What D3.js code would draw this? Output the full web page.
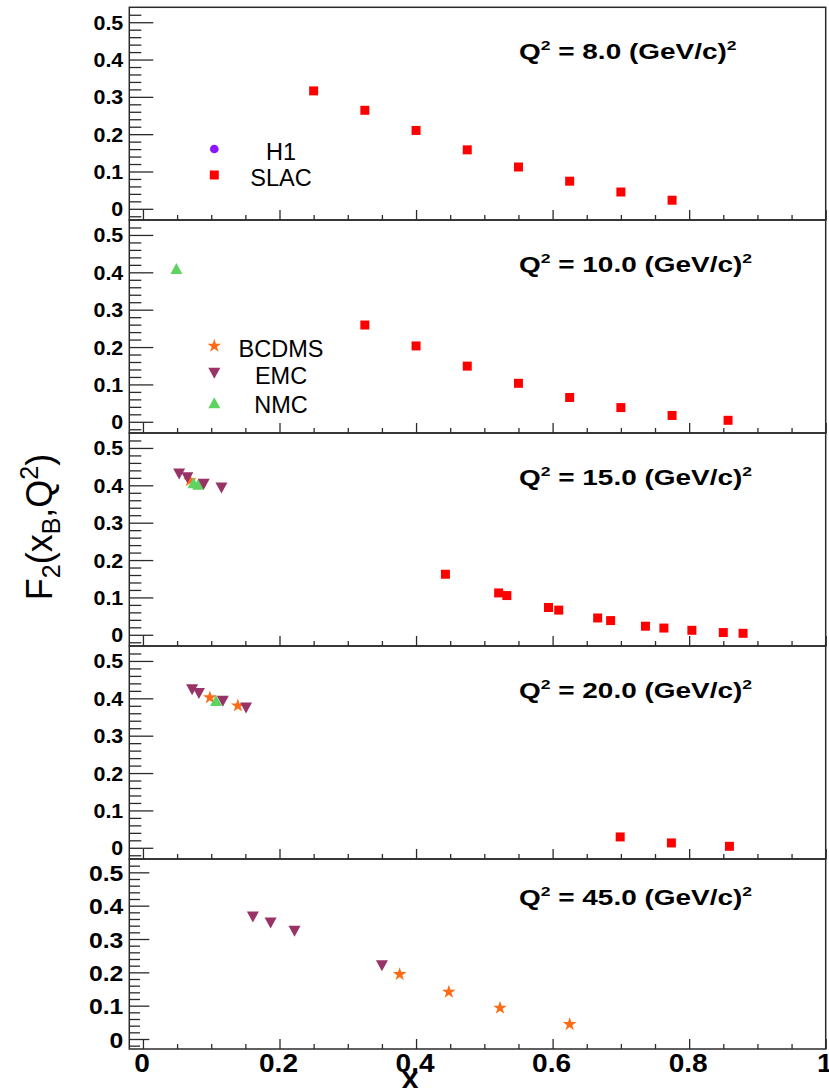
<!DOCTYPE html>
<html>
<head>
<meta charset="utf-8">
<script src="https://cdn.jsdelivr.net/npm/d3@7"></script>
<style>
  html, body { margin: 0; padding: 0; background: #fff; }
  svg { display: block; font-family: "Liberation Sans", Arial, Helvetica, sans-serif; }
</style>
</head>
<body>
<svg id="chart" width="829" height="1089"></svg>
<script>
// Q^2 bins, one pad per bin (top to bottom)
const q2Bins = [8.0, 10.0, 15.0, 20.0, 45.0];

// Structure function points: [Q^2, x, F2]
const slac = [
  [8, 0.250, 0.316], [8, 0.325, 0.264], [8, 0.400, 0.210], [8, 0.475, 0.158],
  [8, 0.550, 0.112], [8, 0.625, 0.074], [8, 0.700, 0.045], [8, 0.775, 0.023],
  [10, 0.325, 0.259], [10, 0.400, 0.203], [10, 0.475, 0.149], [10, 0.550, 0.103],
  [10, 0.625, 0.065], [10, 0.700, 0.038], [10, 0.775, 0.017], [10, 0.857, 0.004],
  [15, 0.443, 0.162], [15, 0.521, 0.112], [15, 0.533, 0.105], [15, 0.594, 0.073],
  [15, 0.609, 0.066], [15, 0.666, 0.045], [15, 0.685, 0.038], [15, 0.736, 0.023],
  [15, 0.763, 0.018], [15, 0.804, 0.012], [15, 0.850, 0.006], [15, 0.879, 0.004],
  [20, 0.699, 0.029], [20, 0.774, 0.013], [20, 0.859, 0.004]
];
const h1 = [];
const bcdms = [
  [15, 0.069, 0.413],
  [20, 0.098, 0.402], [20, 0.139, 0.380],
  [45, 0.376, 0.194], [45, 0.448, 0.141], [45, 0.523, 0.093], [45, 0.625, 0.044]
];
const emc = [
  [15, 0.053, 0.430], [15, 0.065, 0.420], [15, 0.089, 0.403], [15, 0.115, 0.393],
  [20, 0.072, 0.423], [20, 0.082, 0.413], [20, 0.117, 0.392], [20, 0.151, 0.374],
  [45, 0.161, 0.366], [45, 0.187, 0.348], [45, 0.222, 0.323], [45, 0.350, 0.220]
];
const nmc = [
  [10, 0.049, 0.410],
  [15, 0.074, 0.407], [15, 0.081, 0.403],
  [20, 0.107, 0.394]
];

const xTicks = [0, 0.2, 0.4, 0.6, 0.8, 1];
const yTicks = [0, 0.1, 0.2, 0.3, 0.4, 0.5];
const legendTop = ["H1", "SLAC"];
const legendSecond = ["BCDMS", "EMC", "NMC"];

// ---- layout ----
const W = 829, H = 1089;
const frameLeft = 129.3, frameRight = 825.7;
const padTop = [7.3, 220, 433, 646, 859];
const padBottom = [220, 433, 646, 859, 1049];
const ink = "#2b2b2b";
const STRETCH = 1.1;

const svg = d3.select("#chart");
svg.append("rect").attr("width", W).attr("height", H).attr("fill", "#fff");

const x = d3.scaleLinear().domain([-0.02, 1.0]).range([frameLeft, frameRight]);

// marker shapes
const triUp = { draw(ctx, size) { const s = Math.sqrt(size) / 2; ctx.moveTo(0, -s); ctx.lineTo(s * 1.09, s); ctx.lineTo(-s * 1.09, s); ctx.closePath(); } };
const triDown = { draw(ctx, size) { const s = Math.sqrt(size) / 2; ctx.moveTo(0, s); ctx.lineTo(s * 1.09, -s); ctx.lineTo(-s * 1.09, -s); ctx.closePath(); } };

const series = [
  { name: "SLAC",  data: slac,  color: "#ff0000", type: d3.symbolSquare, size: 81 },
  { name: "H1",    data: h1,    color: "#8a17ff", type: d3.symbolCircle, size: 60 },
  { name: "BCDMS", data: bcdms, color: "#ff6a14", type: d3.symbolStar,   size: 58 },
  { name: "NMC",   data: nmc,   color: "#5fd35f", type: triUp,           size: 121 },
  { name: "EMC",   data: emc,   color: "#993366", type: triDown,         size: 121 }
];
const byName = Object.fromEntries(series.map(s => [s.name, s]));
const symbolPath = s => d3.symbol().type(s.type).size(s.size)();

q2Bins.forEach((q2, i) => {
  const top = padTop[i], bottom = padBottom[i];
  const last = i === q2Bins.length - 1;
  const y = d3.scaleLinear().domain([-0.03, 0.54]).range([bottom, top]);
  const pad = svg.append("g").attr("class", "pad");

  // y axis: majors with labels, minors every 0.02
  const yMaj = last ? 20 : 24, yMin = last ? 10.7 : 12;
  const yAxis = pad.append("g").attr("transform", `translate(${frameLeft},0)`)
    .call(d3.axisLeft(y).tickValues(yTicks).tickSize(-yMaj).tickPadding(6)
      .tickFormat(d => d === 0 ? "0" : d3.format(".1f")(d)));
  yAxis.select(".domain").remove();
  yAxis.selectAll("line").attr("stroke", ink).attr("stroke-width", 1.3);
  yAxis.selectAll("text")
    .attr("x", null).attr("dy", "0.36em")
    .attr("transform", `translate(-6,0) scale(${STRETCH},1)`)
    .attr("fill", "#000").attr("font-weight", "bold")
    .attr("font-size", last ? 22.5 : 19.5)
    .attr("font-family", "'Liberation Sans', Arial, sans-serif");
  const yMinor = d3.range(-1, 27).filter(k => k % 5 !== 0).map(k => k * 0.02);
  const yAxisMinor = pad.append("g").attr("transform", `translate(${frameLeft},0)`)
    .call(d3.axisLeft(y).tickValues(yMinor).tickSize(-yMin).tickFormat(""));
  yAxisMinor.select(".domain").remove();
  yAxisMinor.selectAll("line").attr("stroke", ink).attr("stroke-width", 1.3);

  // x axis at the bottom of each pad
  const xAxis = pad.append("g").attr("transform", `translate(0,${bottom})`)
    .call(d3.axisBottom(x).tickValues(xTicks).tickSize(-10)
      .tickFormat(last ? (d => d3.format("")(+d.toFixed(1))) : ""));
  xAxis.select(".domain").remove();
  xAxis.selectAll("line").attr("stroke", ink).attr("stroke-width", 1.3);
  xAxis.selectAll("text")
    .attr("y", null).attr("dy", null)
    .attr("transform", `translate(-1.5,22.7) scale(${STRETCH},1)`)
    .attr("fill", "#000").attr("font-weight", "bold").attr("font-size", 25.5)
    .attr("font-family", "'Liberation Sans', Arial, sans-serif");
  const xMinor = d3.range(1, 20).filter(k => k % 4 !== 0).map(k => k * 0.05);
  const xAxisMinor = pad.append("g").attr("transform", `translate(0,${bottom})`)
    .call(d3.axisBottom(x).tickValues(xMinor).tickSize(-5).tickFormat(""));
  xAxisMinor.select(".domain").remove();
  xAxisMinor.selectAll("line").attr("stroke", ink).attr("stroke-width", 1.3);

  // frame
  pad.append("rect")
    .attr("x", frameLeft).attr("y", top)
    .attr("width", frameRight - frameLeft).attr("height", bottom - top)
    .attr("fill", "none").attr("stroke", ink).attr("stroke-width", 1.5);

  // data markers
  series.forEach(s => {
    pad.append("g").selectAll("path")
      .data(s.data.filter(d => d[0] === q2))
      .join("path")
      .attr("d", symbolPath(s))
      .attr("transform", d => `translate(${x(d[1])},${y(d[2])})`)
      .attr("fill", s.color);
  });

  // Q^2 label
  const lab = pad.append("text")
    .attr("transform", `translate(519,${top + (last ? 46 : 52)}) scale(1.3,1)`)
    .attr("font-weight", "bold").attr("font-size", 21.5).attr("fill", "#000");
  lab.append("tspan").text("Q");
  lab.append("tspan").attr("font-size", 13.5).attr("dy", -9).text("2");
  lab.append("tspan").attr("dy", 9).text(` = ${d3.format(".1f")(q2)} (GeV/c)`);
  lab.append("tspan").attr("font-size", 13.5).attr("dy", -9).text("2");
});

// legends
function drawLegend(names, top0, rowYs) {
  const g = svg.append("g");
  names.forEach((n, k) => {
    const s = byName[n];
    const yy = top0 + rowYs[k];
    g.append("path").attr("d", symbolPath(s))
      .attr("transform", `translate(214.3,${yy})`).attr("fill", s.color);
    g.append("text").attr("x", 281).attr("y", yy + 10.5)
      .attr("text-anchor", "middle").attr("font-size", 23.5).attr("fill", "#000")
      .text(n);
  });
}
drawLegend(legendTop, padTop[0], [141.7, 167.7]);
drawLegend(legendSecond, padTop[1], [126, 153.3, 182.7]);

// y axis title: F2(xB,Q2)
const yt = svg.append("text")
  .attr("transform", "translate(52,527) rotate(-90)")
  .attr("text-anchor", "middle").attr("font-size", 36).attr("fill", "#000");
yt.append("tspan").text("F");
yt.append("tspan").attr("font-size", 25).attr("dy", 8).text("2");
yt.append("tspan").attr("dy", -8).text("(x");
yt.append("tspan").attr("font-size", 25).attr("dy", 8).text("B");
yt.append("tspan").attr("dy", -8).text(",Q");
yt.append("tspan").attr("font-size", 25).attr("dy", -14).text("2");
yt.append("tspan").attr("dy", 14).text(")");

// x axis title
svg.append("text")
  .attr("x", 410).attr("y", 1087.5)
  .attr("text-anchor", "middle").attr("font-weight", "bold")
  .attr("font-size", 30).attr("fill", "#000")
  .text("x");
</script>
</body>
</html>
